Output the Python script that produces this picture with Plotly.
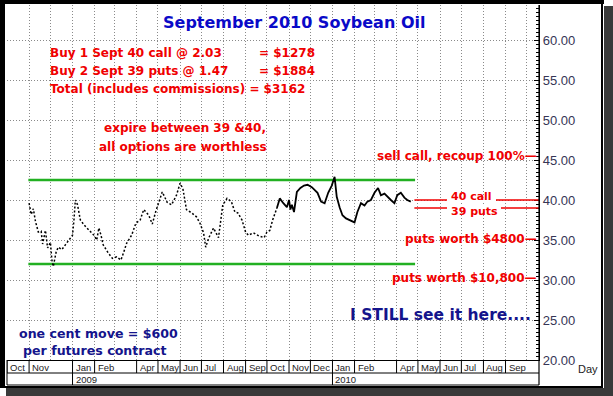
import plotly.graph_objects as go

# ---------------- data ----------------
price_dates = [
    "2008-11-01", "2008-11-04", "2008-11-07", "2008-11-10", "2008-11-14", "2008-11-18",
    "2008-11-20", "2008-11-24", "2008-11-27", "2008-12-01", "2008-12-03", "2008-12-05",
    "2008-12-09", "2008-12-12", "2008-12-17", "2008-12-22", "2008-12-27", "2009-01-01",
    "2009-01-03", "2009-01-05", "2009-01-08", "2009-01-12", "2009-01-18", "2009-01-25",
    "2009-01-31", "2009-02-04", "2009-02-07", "2009-02-10", "2009-02-13", "2009-02-20",
    "2009-02-26", "2009-03-04", "2009-03-10", "2009-03-14", "2009-03-18", "2009-03-25",
    "2009-03-31", "2009-04-06", "2009-04-11", "2009-04-18", "2009-04-23", "2009-04-28",
    "2009-05-02", "2009-05-07", "2009-05-14", "2009-05-20", "2009-05-27", "2009-06-01",
    "2009-06-05", "2009-06-10", "2009-06-17", "2009-06-24", "2009-06-29", "2009-07-04",
    "2009-07-07", "2009-07-11", "2009-07-18", "2009-07-25", "2009-07-31", "2009-08-06",
    "2009-08-12", "2009-08-17", "2009-08-21", "2009-08-27", "2009-09-01", "2009-09-05",
    "2009-09-12", "2009-09-20", "2009-09-27", "2009-10-01", "2009-10-05", "2009-10-09",
    "2009-10-15", "2009-10-19", "2009-10-24", "2009-10-29", "2009-11-01", "2009-11-03",
    "2009-11-05", "2009-11-08", "2009-11-12", "2009-11-17", "2009-11-22", "2009-11-27",
    "2009-12-03", "2009-12-07", "2009-12-11", "2009-12-16", "2009-12-21", "2009-12-26",
    "2009-12-31", "2010-01-04", "2010-01-07", "2010-01-11", "2010-01-15", "2010-01-20",
    "2010-01-26", "2010-02-01", "2010-02-05", "2010-02-10", "2010-02-15", "2010-02-19",
    "2010-02-24", "2010-03-01", "2010-03-06", "2010-03-10", "2010-03-15", "2010-03-19",
    "2010-03-24", "2010-03-29", "2010-04-02", "2010-04-07", "2010-04-12", "2010-04-16",
    "2010-04-21",
]
price_values = [
    39.6, 38.2, 38.9, 37.3, 36.0, 36.1,
    34.5, 36.2, 34.0, 34.7, 32.5, 31.7,
    33.5, 34.1, 33.8, 34.4, 35.0, 35.6,
    37.5, 40.0, 39.4, 37.5, 36.8, 36.2,
    35.6, 35.0, 36.5, 35.6, 34.4, 33.4,
    32.7, 32.9, 32.5, 33.5, 34.6, 35.6,
    37.1, 37.5, 38.8, 38.1, 37.0, 38.6,
    39.6, 41.0, 39.7, 39.4, 40.6, 42.1,
    41.4, 38.8, 38.4, 37.9, 37.1, 35.9,
    34.1, 35.2, 36.5, 35.3, 39.4, 40.2,
    39.8, 38.5, 38.4, 37.5, 36.0, 35.6,
    35.9, 35.5, 35.3, 36.0, 36.2, 37.5,
    39.0, 40.2, 39.6, 39.1, 40.0, 38.8,
    39.4, 38.5, 41.0, 41.5, 41.8, 41.9,
    41.6, 41.3, 40.9, 39.8, 39.6, 40.9,
    41.8, 42.9, 40.4, 39.1, 38.1, 37.7,
    37.4, 37.2, 38.5, 39.6, 39.3, 39.8,
    40.0, 40.9, 41.5, 40.6, 40.8, 40.4,
    40.0, 39.6, 40.6, 40.9, 40.3, 40.0,
    39.8,
]
dense_from = "2009-10-15"          # thin (dotted) trading before, dense after

channel_dates = ["2008-10-31", "2010-04-27"]
channel_top = 42.5
channel_bottom = 32.0

level_start = "2010-04-26"
call_strike = 40.0
put_strike = 39.0

month_label_dates = [
    "2008-10-01", "2008-11-01", "2009-01-01", "2009-02-01", "2009-04-01", "2009-05-01",
    "2009-06-01", "2009-07-01", "2009-08-01", "2009-09-01", "2009-10-01", "2009-11-01",
    "2009-12-01", "2010-01-01", "2010-02-01", "2010-04-01", "2010-05-01", "2010-06-01",
    "2010-07-01", "2010-08-01", "2010-09-01",
]
month_labels = [
    "Oct", "Nov", "Jan", "Feb", "Apr", "May", "Jun", "Jul", "Aug", "Sep", "Oct", "Nov",
    "Dec", "Jan", "Feb", "Apr", "May", "Jun", "Jul", "Aug", "Sep",
]
year_label_dates = ["2009-01-01", "2010-01-01"]
year_labels = ["2009", "2010"]

x_range = ["2008-10-01", "2010-10-18"]
y_range = [20, 64.375]

# ---------------- helpers (pixel -> paper) ----------------
PL, PR, PT, PB = 7, 539, 5, 360


def X(px):
    return (px - PL) / (PR - PL)


def Y(py):
    return (PB - py) / (PB - PT)


FONT = "Liberation Sans, Arial, sans-serif"
BFONT = "DejaVu Sans, Verdana, sans-serif"
RED = "#f00000"
BLUE = "#0a0ac8"
NAVY = "#14148c"

fig = go.Figure()

# channel lines
for lvl in (channel_top, channel_bottom):
    fig.add_trace(go.Scatter(x=channel_dates, y=[lvl, lvl], mode="lines",
                             line=dict(color="#22b022", width=2.5),
                             hoverinfo="skip", showlegend=False))

# price series: sparse early part, dense later part
split = next(i for i, d in enumerate(price_dates) if d >= dense_from)
fig.add_trace(go.Scatter(x=price_dates[:split + 1], y=price_values[:split + 1],
                         mode="lines", line=dict(color="black", width=1.5, dash="2px,2px"),
                         showlegend=False))
fig.add_trace(go.Scatter(x=price_dates[split:], y=price_values[split:],
                         mode="lines", line=dict(color="black", width=1.8),
                         showlegend=False))

shapes = []
# strike lines to the axis, with a gap for their labels
for lvl, gap in ((call_strike, (447, 496)), (put_strike, (447, 501))):
    shapes.append(dict(type="line", xref="x", yref="y", x0=level_start, x1=x_range[1],
                       y0=lvl, y1=lvl, line=dict(color=RED, width=1.5)))
    shapes.append(dict(type="rect", xref="paper", yref="y", x0=X(gap[0]), x1=X(gap[1]),
                       y0=lvl - 0.3, y1=lvl + 0.3, fillcolor="white", line=dict(width=0)))

# date box at bottom
row1 = Y(373)
row2 = Y(385)
shapes.append(dict(type="line", xref="paper", yref="paper", x0=0, x1=1, y0=row1, y1=row1,
                   line=dict(color="black", width=1)))
shapes.append(dict(type="line", xref="paper", yref="paper", x0=0, x1=1, y0=row2, y1=row2,
                   line=dict(color="black", width=1)))
shapes.append(dict(type="line", xref="paper", yref="paper", x0=1, x1=1, y0=row2, y1=1,
                   line=dict(color="black", width=1.2)))
shapes.append(dict(type="line", xref="paper", yref="paper", x0=0, x1=0, y0=row2, y1=0,
                   line=dict(color="black", width=1)))
for d in month_label_dates:
    shapes.append(dict(type="line", xref="x", yref="paper", x0=d, x1=d, y0=row1, y1=0,
                       line=dict(color="black", width=1)))
for d in year_label_dates:
    shapes.append(dict(type="line", xref="x", yref="paper", x0=d, x1=d, y0=row2, y1=row1,
                       line=dict(color="black", width=1)))

# outer frame and shadow
shapes.append(dict(type="rect", xref="paper", yref="paper", x0=X(0), x1=X(5), y0=Y(388), y1=Y(0),
                   fillcolor="black", line=dict(width=0)))
shapes.append(dict(type="rect", xref="paper", yref="paper", x0=X(0), x1=X(604), y0=Y(4), y1=Y(0),
                   fillcolor="black", line=dict(width=0)))
shapes.append(dict(type="rect", xref="paper", yref="paper", x0=X(601), x1=X(603), y0=Y(388), y1=Y(0),
                   fillcolor="black", line=dict(width=0)))
shapes.append(dict(type="rect", xref="paper", yref="paper", x0=X(0), x1=X(603), y0=Y(388), y1=Y(386),
                   fillcolor="black", line=dict(width=0)))
shapes.append(dict(type="rect", xref="paper", yref="paper", x0=X(604), x1=X(613), y0=Y(396), y1=Y(6),
                   fillcolor="#3a3a3a", line=dict(width=0)))
shapes.append(dict(type="rect", xref="paper", yref="paper", x0=X(6), x1=X(613), y0=Y(396), y1=Y(388),
                   fillcolor="#3a3a3a", line=dict(width=0)))

ann = []


def text(t, x, y, size, color, xanchor="left", xref="paper", yref="paper",
         yanchor="middle", pad=1):
    ann.append(dict(text=f"<b>{t}</b>", x=x, y=y, xref=xref, yref=yref,
                    xanchor=xanchor, yanchor=yanchor, showarrow=False, borderpad=pad,
                    font=dict(family=BFONT, size=size, color=color)))


text("September 2010 Soybean Oil", X(294), Y(22), 16, BLUE, "center")
text("Buy 1 Sept 40 call @ 2.03", X(48), Y(53), 12, RED)
text("= $1278", X(257), Y(53), 12, RED)
text("Buy 2 Sept 39 puts @ 1.47", X(48), Y(71), 12, RED)
text("= $1884", X(257), Y(71), 12, RED)
text("Total (includes commissions) = $3162", X(48), Y(89), 12, RED)
text("expire between 39 &amp;40,", X(185), Y(128), 12, RED, "center")
text("all options are worthless", X(183), Y(147), 12, RED, "center")
text("sell call, recoup 100%—", 1, 45.45, 12, RED, "right", yref="y")
mid = (call_strike + put_strike) / 2
text("40 call", X(471.5), mid + 0.05, 11, RED, "center", yref="y", yanchor="bottom", pad=0)
text("39 puts", X(474), mid - 0.05, 11, RED, "center", yref="y", yanchor="top", pad=0)
text("puts worth $4800—", 1, 35.1, 12, RED, "right", yref="y")
text("puts worth $10,800—", 1, 30.2, 12, RED, "right", yref="y")
text("I STILL see it here....", X(440), Y(315), 15.5, NAVY, "center")
text("one cent move = $600", X(17), Y(333), 12.6, NAVY)
text("per futures contract", X(21), Y(350), 12.6, NAVY)

for d, lab in zip(month_label_dates, month_labels):
    ann.append(dict(text=lab, x=d, y=Y(367), xref="x", yref="paper", xanchor="left",
                    yanchor="middle", xshift=1, showarrow=False,
                    font=dict(family=FONT, size=9.5, color="#222")))
for d, lab in zip(year_label_dates, year_labels):
    ann.append(dict(text=lab, x=d, y=Y(379), xref="x", yref="paper", xanchor="left",
                    yanchor="middle", xshift=1, showarrow=False,
                    font=dict(family=FONT, size=9.5, color="#222")))
ann.append(dict(text="Day", x=X(588), y=Y(369), xref="paper", yref="paper",
                xanchor="center", yanchor="middle", showarrow=False,
                font=dict(family=FONT, size=11, color="#222")))

fig.update_layout(
    width=613, height=396,
    margin=dict(l=PL, r=613 - PR, t=PT, b=396 - PB),
    paper_bgcolor="white", plot_bgcolor="white",
    showlegend=False,
    shapes=shapes, annotations=ann,
    xaxis=dict(type="date", range=x_range, showticklabels=False, ticks="",
               dtick="M1", tick0="2008-10-01", showgrid=True, gridcolor="#8a8a8a",
               gridwidth=1, griddash="1px,2px", zeroline=False,
               showline=True, linecolor="black", linewidth=1),
    yaxis=dict(range=y_range, side="right", dtick=5, tick0=0, tickformat=".2f",
               showgrid=True, gridcolor="#8a8a8a", gridwidth=1, griddash="1px,2px",
               zeroline=False, showline=True, linecolor="black", linewidth=1.2,
               ticks="inside", ticklen=5, tickcolor="black",
               minor=dict(dtick=0.5, ticks="inside", ticklen=3, tickcolor="black", showgrid=False),
               tickfont=dict(family=FONT, size=13, color="#353555")),
)

fig.write_html("out.html", config={"displayModeBar": False},
               post_script="document.body.style.margin='0';")
